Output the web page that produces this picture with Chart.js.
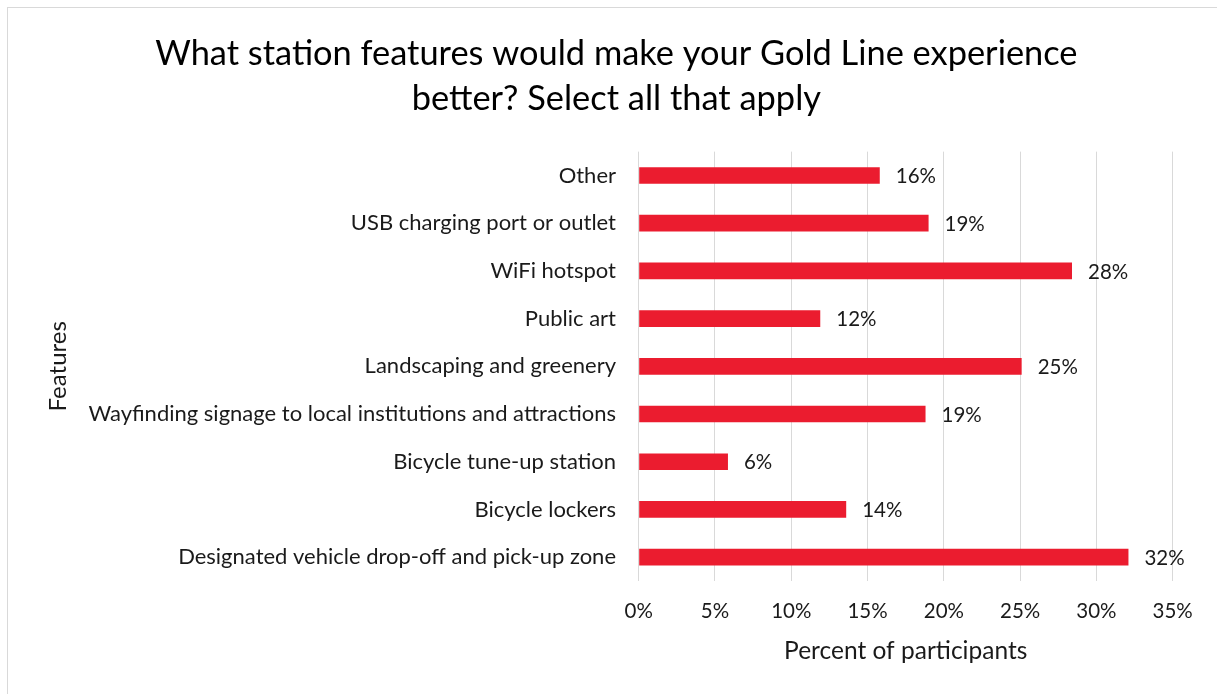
<!DOCTYPE html>
<html>
<head>
<meta charset="utf-8">
<script src="https://cdn.jsdelivr.net/npm/chart.js@4.4.1/dist/chart.umd.min.js"></script>
<style>
  html, body { margin: 0; padding: 0; background: #fff; }
  #frame { position: absolute; left: 7px; top: 7px; width: 1300px; height: 800px; border: 1px solid #d9d9d9; box-sizing: border-box; }
  #wrap { position: absolute; left: 0; top: 0; width: 1217px; height: 694px; }
</style>
</head>
<body>
<div id="frame"></div>
<div id="wrap"><canvas id="c" width="1217" height="694"></canvas></div>
<script>
const categories = [
  "Other",
  "USB charging port or outlet",
  "WiFi hotspot",
  "Public art",
  "Landscaping and greenery",
  "Wayfinding signage to local institutions and attractions",
  "Bicycle tune-up station",
  "Bicycle lockers",
  "Designated vehicle drop-off and pick-up zone"
];
const percentValues = [15.8, 19.0, 28.4, 11.9, 25.1, 18.8, 5.85, 13.6, 32.1];
const xTickValues = [0, 5, 10, 15, 20, 25, 30, 35];
const titleLines = ["What station features would make your Gold Line experience", "better? Select all that apply"];
const xAxisTitle = "Percent of participants";
const yAxisTitle = "Features";

const FONT = "Lato, 'Noto Sans', sans-serif";
const TEXT = "#1a1a1a";

const valueLabels = {
  id: 'valueLabels',
  afterDatasetsDraw(chart) {
    const ctx = chart.ctx;
    const meta = chart.getDatasetMeta(0);
    ctx.save();
    ctx.font = "20.5px " + FONT;
    ctx.fillStyle = TEXT;
    ctx.textAlign = 'left';
    ctx.textBaseline = 'middle';
    meta.data.forEach((bar, i) => {
      const v = chart.data.datasets[0].data[i];
      ctx.fillText(Math.round(v) + '%', bar.x + 16, bar.y + 1);
    });
    ctx.restore();
  }
};

new Chart(document.getElementById('c'), {
  type: 'bar',
  data: {
    labels: categories,
    datasets: [{
      data: percentValues,
      backgroundColor: '#EB1C2F',
      borderWidth: 0,
      categoryPercentage: 1,
      barPercentage: 0.35
    }]
  },
  plugins: [valueLabels],
  options: {
    indexAxis: 'y',
    responsive: false,
    animation: false,
    layout: { padding: { left: 60, right: 44.3, top: 31, bottom: 28.3 } },
    plugins: {
      legend: { display: false },
      tooltip: { enabled: false },
      title: {
        display: true,
        text: titleLines,
        color: '#000',
        font: { family: FONT, size: 34.4, weight: 'normal', lineHeight: 1.31 },
        padding: { top: 0, bottom: 30.5 }
      }
    },
    scales: {
      x: {
        min: 0, max: 35,
        afterBuildTicks(scale) { scale.ticks = xTickValues.map(v => ({ value: v })); },
        afterFit(scale) { scale.height = 84.7; },
        ticks: {
          color: TEXT,
          font: { family: FONT, size: 20.5 },
          padding: 18,
          callback: (v) => v + '%'
        },
        grid: { color: '#d9d9d9', lineWidth: 1, drawTicks: false },
        border: { display: false },
        title: {
          display: true,
          text: xAxisTitle,
          color: TEXT,
          font: { family: FONT, size: 24.5 },
          padding: { top: 0, bottom: 0 }
        }
      },
      y: {
        afterFit(scale) { scale.width = 578.7; },
        ticks: {
          color: TEXT,
          font: { family: FONT, size: 22 },
          padding: 22.7
        },
        grid: { display: false, drawTicks: false },
        border: { display: false },
        title: {
          display: true,
          text: yAxisTitle,
          color: TEXT,
          font: { family: FONT, size: 24 },
          padding: { top: -16.4, bottom: 0 }
        }
      }
    }
  }
});
</script>
</body>
</html>
